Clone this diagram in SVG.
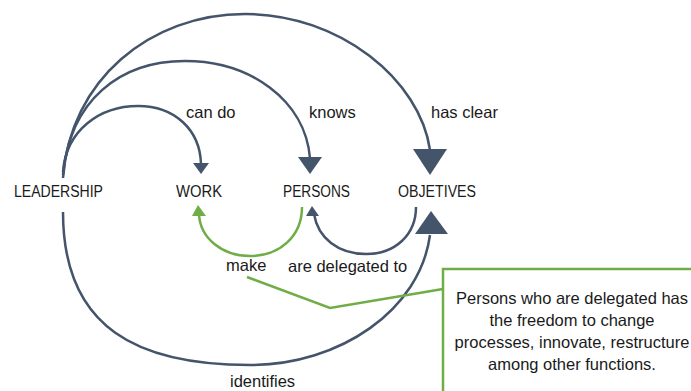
<svg xmlns="http://www.w3.org/2000/svg" width="691" height="391" viewBox="0 0 691 391">
<style>
.t{font-family:"Liberation Sans",Arial,sans-serif;font-size:16px;fill:#1a1a1a}
.l{font-size:16.5px}
.c{text-anchor:middle}
.d{fill:none;stroke:#44546A;stroke-width:2.5}
.g{fill:none;stroke:#70AD47;stroke-width:2.5}
.dh{fill:#44546A}
.gh{fill:#70AD47}
</style>
<rect width="691" height="391" fill="#ffffff"/>
<g id="connectors">
<path class="d" d="M63,172 C66,130 100,106 138,106 C175,106 200,130 201,164"/>
<polygon class="dh" points="193,163 209,163 201,174"/>
<path class="d" d="M63,175 C70,100 120,61 185,61 C250,61 305,100 310,158"/>
<polygon class="dh" points="298,157 322,157 310,174"/>
<path class="d" d="M63,178 C70,80 150,14 245,14 C340,14 420,80 430,150"/>
<polygon class="dh" points="413,149 447,149 430,175"/>
<path class="d" d="M63,212 C63,330 140,365 250,365 C340,365 420,310 430,235"/>
<polygon class="dh" points="415,234 448,234 431,211"/>
<path class="d" d="M416,207 C416,235 395,254 366,254 C338,254 318,238 314,214"/>
<polygon class="dh" points="306,216 319,216 312,206"/>
<path class="g" d="M302,207 C302,236 280,256 250,256 C222,256 200,238 199,214"/>
<polygon class="gh" points="192,216 206,216 198,205"/>
<polyline class="g" points="247,277 330,308 443,289"/>
</g>
<g id="leadership"><text class="t" x="14" y="197" textLength="89" lengthAdjust="spacingAndGlyphs">LEADERSHIP</text></g>
<g id="work"><text class="t" x="176" y="197" textLength="46" lengthAdjust="spacingAndGlyphs">WORK</text></g>
<g id="persons"><text class="t" x="283" y="197" textLength="67" lengthAdjust="spacingAndGlyphs">PERSONS</text></g>
<g id="objetives"><text class="t" x="398" y="197" textLength="78" lengthAdjust="spacingAndGlyphs">OBJETIVES</text></g>
<g id="labels">
<text class="t l" x="186" y="118">can do</text>
<text class="t l" x="309" y="118">knows</text>
<text class="t l" x="431" y="118">has clear</text>
<text class="t l" x="226" y="271">make</text>
<text class="t l" x="288" y="272">are delegated to</text>
<text class="t l" x="230" y="387">identifies</text>
</g>
<g id="note">
<rect x="443" y="269" width="260" height="140" fill="#ffffff" stroke="#70AD47" stroke-width="2.5"/>
<text class="t l c" x="572" y="304">Persons who are delegated has</text>
<text class="t l c" x="572" y="326">the freedom to change</text>
<text class="t l c" x="572" y="348">processes, innovate, restructure</text>
<text class="t l c" x="572" y="370">among other functions.</text>
</g>
</svg>
